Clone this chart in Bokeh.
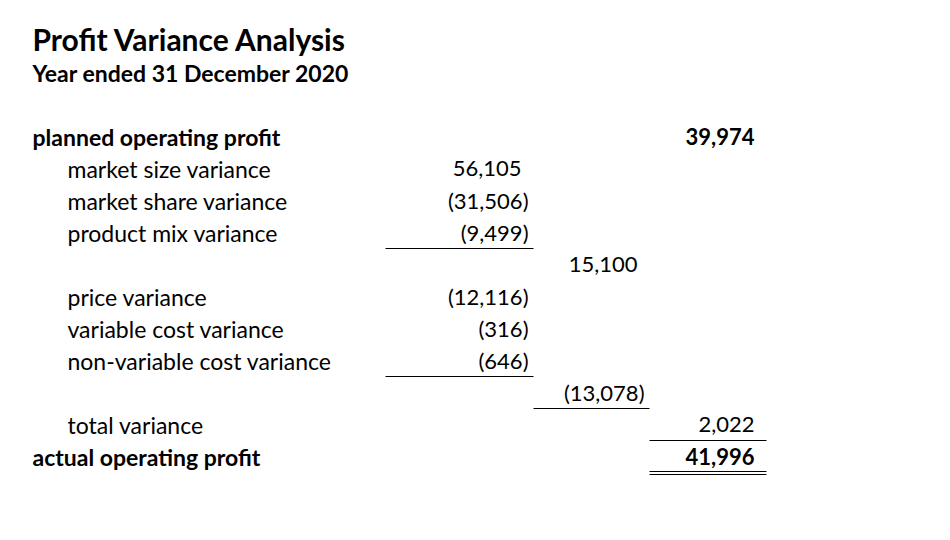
import numpy as np
from bokeh.plotting import figure
from bokeh.models import Range1d, ColumnDataSource
from bokeh.core.properties import value
from bokeh.embed import file_html
from bokeh.resources import INLINE

FONT = "Lato"

title = "Profit Variance Analysis"
subtitle = "Year ended 31 December 2020"

row_labels = ["planned operating profit", "market size variance", "market share variance",
              "product mix variance", "", "price variance", "variable cost variance",
              "non-variable cost variance", "", "total variance", "actual operating profit"]
row_bold = [True, False, False, False, False, False, False, False, False, False, True]

# numeric entries: row index, column index, value
val_rows = [0, 1, 2, 3, 4, 5, 6, 7, 8, 9, 10]
val_cols = [2, 0, 0, 0, 1, 0, 0, 0, 1, 2, 2]
val_values = [39974, 56105, -31506, -9499, 15100, -12116, -316, -646, -13078, 2022, 41996]
val_bold = [True, False, False, False, False, False, False, False, False, False, True]

# underlines: below row, column, style (1 single, 2 double)
ul_rows = [3, 7, 8, 9, 10]
ul_cols = [0, 0, 1, 2, 2]
ul_kind = [1, 1, 1, 1, 2]

# layout (pixel-like data units)
col_left = [385, 533, 649]
col_right = [533, 649, 766]
row0_y = 136
row_h = 32

p = figure(width=934, height=520, x_range=Range1d(0, 934), y_range=Range1d(520, 0),
           output_backend="svg", toolbar_location=None, min_border=0)
p.axis.visible = False
p.grid.visible = False
p.outline_line_color = None

def fmt(v):
    s = f"{abs(v):,}"
    return f"({s})" if v < 0 else s

# title
p.text(x=[32], y=[38], text=[title], text_font=value(FONT), text_font_size="30px",
       text_font_style="bold", text_baseline="middle", text_color="black")
p.text(x=[32], y=[72], text=[subtitle], text_font=value(FONT), text_font_size="23px",
       text_font_style="bold", text_baseline="middle", text_color="black")

# labels
ry = row0_y + row_h * np.arange(len(row_labels))
lx = [32 if b else 67 for b in row_bold]
for bold in (True, False):
    idx = [i for i, b in enumerate(row_bold) if b == bold and row_labels[i]]
    src = ColumnDataSource(dict(x=[lx[i] for i in idx], y=[ry[i] for i in idx],
                                t=[row_labels[i] for i in idx]))
    p.text(x="x", y="y", text="t", source=src, text_font=value(FONT), text_font_size="23px",
           text_font_style="bold" if bold else "normal", text_baseline="middle",
           text_color="black")

# values
for bold in (True, False):
    for neg in (True, False):
        idx = [i for i in range(len(val_values)) if val_bold[i] == bold and (val_values[i] < 0) == neg]
        if not idx:
            continue
        src = ColumnDataSource(dict(
            x=[col_right[val_cols[i]] for i in idx],
            y=[row0_y + row_h * val_rows[i] for i in idx],
            t=[fmt(val_values[i]) for i in idx]))
        p.text(x="x", y="y", text="t", source=src, text_font=value(FONT), text_font_size="22px",
               text_font_style="bold" if bold else "normal", text_baseline="middle",
               text_align="right", x_offset=-5 if neg else -12, text_color="black")

# underlines
x0, x1, yy = [], [], []
for r, c, k in zip(ul_rows, ul_cols, ul_kind):
    base = row0_y + row_h * r + 16
    x0.append(col_left[c]); x1.append(col_right[c]); yy.append(base - 1 if k == 2 else base)
    if k == 2:
        x0.append(col_left[c]); x1.append(col_right[c]); yy.append(base + 2)
p.segment(x0=x0, y0=yy, x1=x1, y1=yy, line_color="black", line_width=1)

open("out.html", "w").write(file_html(p, INLINE))
